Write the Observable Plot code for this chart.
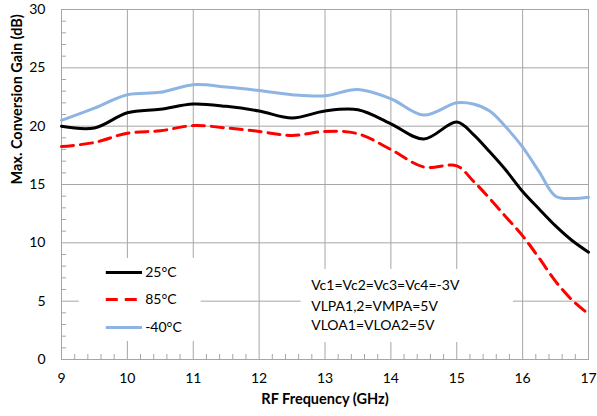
<!DOCTYPE html>
<html><head><meta charset="utf-8">
<script src="https://cdn.jsdelivr.net/npm/d3@7"></script>
<script src="https://cdn.jsdelivr.net/npm/@observablehq/plot@0.6"></script>
<style>
body{margin:0;background:#fff;}
#chart svg{font-family:Lato,"Open Sans",sans-serif;}
</style></head><body><div id="chart"></div>
<script>
// ---- data ----
const freq    = [9, 9.5, 10, 10.5, 11, 11.5, 12, 12.5, 13, 13.5, 14, 14.5, 15, 15.25, 15.5, 15.75, 16, 16.25, 16.5, 16.75, 17];
const gain25  = [20.0, 19.85, 21.15, 21.45, 21.9, 21.7, 21.3, 20.7, 21.3, 21.4, 20.2, 18.9, 20.35, 19.3, 17.8, 16.2, 14.4, 12.9, 11.45, 10.2, 9.2];
const gain85  = [18.25, 18.6, 19.4, 19.6, 20.05, 19.85, 19.55, 19.2, 19.55, 19.35, 18.0, 16.5, 16.6, 15.3, 13.8, 12.2, 10.6, 8.7, 6.7, 5.1, 3.9];
const gainM40 = [20.5, 21.55, 22.7, 22.9, 23.55, 23.35, 23.05, 22.7, 22.6, 23.15, 22.35, 20.95, 22.0, 21.9, 21.3, 19.9, 18.2, 16.1, 14.0, 13.8, 13.9];
const seriesNames = ["25°C", "85°C", "-40°C"];
const xTicks = [9, 10, 11, 12, 13, 14, 15, 16, 17];
const yTicks = [0, 5, 10, 15, 20, 25, 30];
const xLabel = "RF Frequency (GHz)";
const yLabel = "Max. Conversion Gain (dB)";
const notes = ["Vc1=Vc2=Vc3=Vc4=-3V", "VLPA1,2=VMPA=5V", "VLOA1=VLOA2=5V"];

// ---- styling / layout ----
const seriesValues = [gain25, gain85, gainM40];
const seriesStyle = [
  {stroke: "#000000", dash: null},
  {stroke: "#FF0000", dash: "12,7"},
  {stroke: "#8EB4E3", dash: null}
];
const gridColor = "#a6a6a6";
const minorX = d3.range(9, 17.001, 0.2).map(v => +v.toFixed(1)).filter(v => Math.abs(v - Math.round(v)) > 1e-6);
const minorY = d3.range(1, 30).filter(v => v % 5 !== 0);
const legendBox = {x1: 9.27, x2: 11.12, y1: 1.54, y2: 8.66};
const legendRowY = [7.46, 5.14, 2.74];
const legendLine = {x1: 9.68, x2: 10.23, tx: 10.27};
const noteBox = {x1: 12.64, x2: 15.86, y1: 1.46, y2: 7.71};
const noteRowY = [6.34, 4.54, 2.91];
const noteX = 12.79;

const marks = [
  Plot.gridX(xTicks, {stroke: gridColor, strokeOpacity: 1}),
  Plot.gridY(yTicks, {stroke: gridColor, strokeOpacity: 1}),
  Plot.rect([legendBox], {x1: "x1", x2: "x2", y1: "y1", y2: "y2", fill: "white"}),
  Plot.rect([noteBox], {x1: "x1", x2: "x2", y1: "y1", y2: "y2", fill: "white"}),
  Plot.frame({stroke: gridColor}),
  Plot.axisX(minorX, {tickSize: -5, tickFormat: () => "", stroke: gridColor, label: null}),
  Plot.axisY(minorY, {tickSize: -5, tickFormat: () => "", stroke: gridColor, label: null}),
  Plot.axisX(xTicks, {tickSize: 0, tickPadding: 14, label: null, fontSize: 14}),
  Plot.axisY(yTicks, {tickSize: 0, tickPadding: 16, label: null, fontSize: 14})
];

[2, 1, 0].forEach(i => {
  const rows = freq.map((f, j) => ({f, g: seriesValues[i][j]}));
  marks.push(Plot.line(rows, {x: "f", y: "g", stroke: seriesStyle[i].stroke, strokeWidth: 3,
    strokeDasharray: seriesStyle[i].dash, curve: "catmull-rom"}));
});

seriesNames.forEach((name, i) => {
  marks.push(Plot.ruleY([legendRowY[i]], {x1: legendLine.x1, x2: legendLine.x2, y: d => d,
    stroke: seriesStyle[i].stroke, strokeWidth: 3, strokeDasharray: seriesStyle[i].dash}));
  marks.push(Plot.text([name], {x: legendLine.tx, y: legendRowY[i], text: d => d, textAnchor: "start",
    fontSize: 14, fill: "#000"}));
});

notes.forEach((t, i) => {
  marks.push(Plot.text([t], {x: noteX, y: noteRowY[i], text: d => d, textAnchor: "start", fontSize: 14, fill: "#000"}));
});

marks.push(Plot.text([xLabel], {frameAnchor: "bottom", dy: 44, text: d => d, fontWeight: "bold", fontSize: 14.5, fill: "#000"}));
marks.push(Plot.text([yLabel], {frameAnchor: "left", dx: -44, rotate: -90, text: d => d, fontWeight: "bold", fontSize: 14.5, fill: "#000"}));

const chart = Plot.plot({
  width: 597, height: 416,
  marginLeft: 61, marginRight: 9, marginTop: 9, marginBottom: 57,
  style: {fontFamily: "Lato, 'Open Sans', sans-serif", fontSize: "14px", color: "#000", background: "#fff"},
  x: {domain: [9, 17]},
  y: {domain: [0, 30]},
  marks
});
document.getElementById("chart").appendChild(chart);
</script>
</body></html>
